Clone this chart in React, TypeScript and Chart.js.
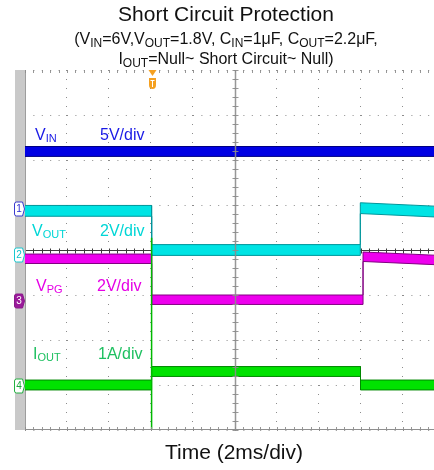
import { useEffect, useRef } from 'react';
import { Chart, registerables } from 'chart.js';

Chart.register(...registerables);

const FONT = '"Liberation Sans", Arial, Helvetica, sans-serif';

// Horizontal: 2 ms/div, screen shows 0 … 19.48 ms
const MS_PER_DIV = 2;
const TIME_END = 19.48;
const TRIGGER_MS = 6.03;

// CH1 – VIN (V)
const VIN_T = [0, TIME_END];
const VIN_V = [6.4, 6.4];
// CH2 – VOUT (V)
const VOUT_T = [0, 6.03, 6.03, 15.97, 15.97, TIME_END];
const VOUT_V = [1.96, 1.96, 0.22, 0.22, 2.08, 1.93];
// CH3 – VPG (V)
const VPG_T = [0, 6.03, 6.03, 16.1, 16.1, TIME_END];
const VPG_V = [1.87, 1.87, 0.05, 0.05, 1.96, 1.82];
// CH4 – IOUT (A)
const IOUT_T = [0, 6.03, 6.03, 15.98, 15.98, TIME_END];
const IOUT_A = [0.02, 0.02, 0.32, 0.32, 0.02, 0.02];
// current transient at the instant the output is shorted
const IOUT_SPIKE_T = [6.03, 6.03];
const IOUT_SPIKE_A = [3.29, -1.5];

// peak-to-peak noise of each channel (V, V, V, A)
const NOISE_PP = [1.1, 0.48, 0.42, 0.22];
// units per vertical division for CH1..CH4
const UNITS_PER_DIV = [5, 2, 2, 1];
// ground level of each channel, in divisions from screen centre
const ZERO_DIV = [0.91, -0.11, -1.13, -3.02];

const CH_NAMES = ['VIN', 'VOUT', 'VPG', 'IOUT'];
const CH_TIMES = [VIN_T, VOUT_T, VPG_T, IOUT_T];
const CH_VALUES = [VIN_V, VOUT_V, VPG_V, IOUT_A];

const TRACE_FILL = ['rgb(0,0,228)', 'rgb(0,228,228)', 'rgb(238,0,238)', 'rgb(0,226,0)'];
const TRACE_EDGE = ['rgb(0,0,130)', 'rgb(0,150,155)', 'rgb(130,0,130)', 'rgb(0,135,0)'];

type Part = [string, boolean];

const TRACE_LABELS: { parts: Part[]; scale: string; color: string; x: number; sx: number; y: number }[] = [
  { parts: [['V', false], ['IN', true]], scale: '5V/div', color: '#1a1ae6', x: 35, sx: 100, y: 140 },
  { parts: [['V', false], ['OUT', true]], scale: '2V/div', color: '#00d6d6', x: 32, sx: 100, y: 236 },
  { parts: [['V', false], ['PG', true]], scale: '2V/div', color: '#e600e6', x: 36, sx: 97, y: 291 },
  { parts: [['I', false], ['OUT', true]], scale: '1A/div', color: '#1ec060', x: 33, sx: 98, y: 359 },
];

const TITLE = 'Short Circuit Protection';
const SUBTITLE_1: Part[] = [
  ['(V', false], ['IN', true], ['=6V,V', false], ['OUT', true], ['=1.8V, C', false], ['IN', true],
  ['=1μF, C', false], ['OUT', true], ['=2.2μF,', false],
];
const SUBTITLE_2: Part[] = [['I', false], ['OUT', true], ['=Null~ Short Circuit~ Null)', false]];
const X_TITLE = 'Time (2ms/div)';

function toDiv(ch: number, v: number) {
  return ZERO_DIV[ch] + v / UNITS_PER_DIV[ch];
}

function bandDatasets(ch: number) {
  const t = CH_TIMES[ch];
  const v = CH_VALUES[ch];
  const half = NOISE_PP[ch] / 2;
  return [
    {
      label: CH_NAMES[ch] + ' max',
      data: t.map((x, i) => ({ x, y: toDiv(ch, v[i] + half) })),
      borderColor: TRACE_EDGE[ch],
      borderWidth: 1,
      pointRadius: 0,
      fill: false,
    },
    {
      label: CH_NAMES[ch] + ' min',
      data: t.map((x, i) => ({ x, y: toDiv(ch, v[i] - half) })),
      borderColor: TRACE_EDGE[ch],
      borderWidth: 1,
      pointRadius: 0,
      fill: '-1',
      backgroundColor: TRACE_FILL[ch],
    },
  ];
}

function drawParts(ctx: CanvasRenderingContext2D, parts: Part[], x: number, y: number, size: number, subSize: number, drop: number, center: boolean) {
  const widths = parts.map(([t, s]) => {
    ctx.font = `${s ? subSize : size}px ${FONT}`;
    return ctx.measureText(t).width;
  });
  const total = widths.reduce((a, b) => a + b, 0);
  let cx = center ? x - total / 2 : x;
  ctx.textAlign = 'left';
  ctx.textBaseline = 'alphabetic';
  parts.forEach(([t, s], i) => {
    ctx.font = `${s ? subSize : size}px ${FONT}`;
    ctx.fillText(t, cx, s ? y + drop : y);
    cx += widths[i];
  });
}

const scopePlugin = {
  id: 'scopeScreen',
  beforeDraw(chart: any) {
    const { ctx, chartArea: a } = chart;
    ctx.save();
    ctx.fillStyle = '#ffffff';
    ctx.fillRect(0, 0, chart.width, chart.height);
    ctx.fillStyle = '#c9c9c9';
    ctx.fillRect(a.left - 10, a.top, 10, a.bottom - a.top);
    ctx.restore();
  },
  beforeDatasetsDraw(chart: any) {
    const { ctx, chartArea: a, scales } = chart;
    const y0 = Math.round(scales.y.getPixelForValue(0)) + 0.5;
    ctx.save();
    ctx.strokeStyle = '#3a3a3a';
    ctx.lineWidth = 1;
    ctx.beginPath();
    ctx.moveTo(a.left, y0);
    ctx.lineTo(a.right, y0);
    const xStep = (scales.x.getPixelForValue(MS_PER_DIV) - scales.x.getPixelForValue(0)) / 5;
    for (let x = a.left; x <= a.right; x += xStep) {
      const px = Math.round(x) + 0.5;
      ctx.moveTo(px, y0 - 2);
      ctx.lineTo(px, y0 + 3);
    }
    ctx.stroke();
    ctx.strokeStyle = '#9d9d9d';
    ctx.beginPath();
    ctx.moveTo(a.left + 0.5, a.top);
    ctx.lineTo(a.left + 0.5, a.bottom);
    ctx.stroke();
    ctx.restore();
  },
  afterDatasetsDraw(chart: any) {
    const { ctx, chartArea: a, scales } = chart;
    const xc = Math.round(scales.x.getPixelForValue(5 * MS_PER_DIV)) + 0.5;
    const yStep = (scales.y.getPixelForValue(0) - scales.y.getPixelForValue(1)) / 5;
    const xStep = (scales.x.getPixelForValue(MS_PER_DIV) - scales.x.getPixelForValue(0)) / 5;
    ctx.save();
    ctx.strokeStyle = 'rgba(140,140,140,0.9)';
    ctx.lineWidth = 1.5;
    ctx.beginPath();
    ctx.moveTo(xc, a.top);
    ctx.lineTo(xc, a.bottom);
    ctx.stroke();
    ctx.lineWidth = 1;
    ctx.beginPath();
    for (let y = a.top; y <= a.bottom + 0.1; y += yStep) {
      const py = Math.round(y) + 0.5;
      ctx.moveTo(xc - 3, py);
      ctx.lineTo(xc + 3, py);
    }
    for (let x = a.left; x <= a.right; x += xStep) {
      const px = Math.round(x) + 0.5;
      ctx.moveTo(px, a.top);
      ctx.lineTo(px, a.top + 3);
      ctx.moveTo(px, a.bottom - 3);
      ctx.lineTo(px, a.bottom);
    }
    ctx.stroke();
    ctx.strokeStyle = '#8f8f8f';
    ctx.beginPath();
    ctx.moveTo(a.left, a.bottom - 0.5);
    ctx.lineTo(a.right, a.bottom - 0.5);
    ctx.stroke();
    ctx.restore();
  },
  afterDraw(chart: any) {
    const { ctx, chartArea: a, scales } = chart;
    ctx.save();

    // channel ground markers
    const markerStroke = ['#3b3bd0', '#18c8d0', '#8a1a8a', '#22b040'];
    const markerFill = ['#ffffff', '#ffffff', '#9a1a9a', '#ffffff'];
    const markerText = ['#2a2ad0', '#10c0c8', '#ffffff', '#1aa83a'];
    ZERO_DIV.forEach((d, i) => {
      const y = Math.round(scales.y.getPixelForValue(d));
      const l = a.left - 10.5;
      const r = a.left - 2.5;
      ctx.beginPath();
      ctx.moveTo(l + 2, y - 7);
      ctx.lineTo(r, y - 7);
      ctx.lineTo(r + 2, y);
      ctx.lineTo(r, y + 7);
      ctx.lineTo(l + 2, y + 7);
      ctx.quadraticCurveTo(l, y + 7, l, y + 5);
      ctx.lineTo(l, y - 5);
      ctx.quadraticCurveTo(l, y - 7, l + 2, y - 7);
      ctx.closePath();
      ctx.fillStyle = markerFill[i];
      ctx.fill();
      ctx.strokeStyle = markerStroke[i];
      ctx.lineWidth = 1;
      ctx.stroke();
      ctx.fillStyle = markerText[i];
      ctx.font = `10px ${FONT}`;
      ctx.textAlign = 'center';
      ctx.textBaseline = 'middle';
      ctx.fillText(String(i + 1), (l + r) / 2 + 0.5, y + 0.5);
    });

    // trigger position marker
    const tx = Math.round(scales.x.getPixelForValue(TRIGGER_MS)) + 0.5;
    ctx.fillStyle = '#f5a020';
    ctx.beginPath();
    ctx.moveTo(tx - 4, a.top);
    ctx.lineTo(tx + 4, a.top);
    ctx.lineTo(tx, a.top + 6);
    ctx.closePath();
    ctx.fill();
    ctx.beginPath();
    ctx.moveTo(tx - 3.5, a.top + 8);
    ctx.lineTo(tx + 3.5, a.top + 8);
    ctx.lineTo(tx + 3.5, a.top + 15);
    ctx.quadraticCurveTo(tx + 3.5, a.top + 19, tx, a.top + 19);
    ctx.quadraticCurveTo(tx - 3.5, a.top + 19, tx - 3.5, a.top + 15);
    ctx.closePath();
    ctx.fill();
    ctx.strokeStyle = '#ffffff';
    ctx.lineWidth = 1;
    ctx.beginPath();
    ctx.moveTo(tx - 2, a.top + 10.5);
    ctx.lineTo(tx + 2, a.top + 10.5);
    ctx.moveTo(tx, a.top + 10.5);
    ctx.lineTo(tx, a.top + 17);
    ctx.stroke();

    // trace labels
    TRACE_LABELS.forEach((lb) => {
      ctx.fillStyle = lb.color;
      drawParts(ctx, lb.parts, lb.x, lb.y, 16, 11, 2, false);
      ctx.font = `16px ${FONT}`;
      ctx.fillText(lb.scale, lb.sx, lb.y);
    });

    // titles
    ctx.fillStyle = '#111111';
    ctx.font = `21px ${FONT}`;
    ctx.textAlign = 'center';
    ctx.textBaseline = 'alphabetic';
    ctx.fillText(TITLE, 226, 21);
    drawParts(ctx, SUBTITLE_1, 226, 44, 16, 12, 3, true);
    drawParts(ctx, SUBTITLE_2, 226, 64, 16, 12, 3, true);
    ctx.font = `21px ${FONT}`;
    ctx.textAlign = 'center';
    ctx.fillText(X_TITLE, 234, 459);
    ctx.restore();
  },
};

export default function App() {
  const ref = useRef<HTMLCanvasElement>(null);

  useEffect(() => {
    const canvas = ref.current;
    if (!canvas) return;
    const datasets: any[] = [];
    // IOUT spike on top, then IOUT, VPG, VOUT, VIN
    datasets.push({
      label: 'IOUT transient',
      data: IOUT_SPIKE_T.map((x, i) => ({ x, y: toDiv(3, IOUT_SPIKE_A[i]) })),
      borderColor: 'rgb(0,185,0)',
      borderWidth: 1.5,
      pointRadius: 0,
      fill: false,
    });
    [3, 2, 1, 0].forEach((ch) => datasets.push(...bandDatasets(ch)));

    const chart = new Chart(canvas, {
      type: 'line',
      data: { datasets },
      options: {
        animation: false,
        responsive: false,
        devicePixelRatio: 1,
        events: [],
        layout: { padding: { left: 25, top: 70, right: 0, bottom: 40 } },
        elements: { line: { tension: 0 } },
        plugins: {
          legend: { display: false },
          tooltip: { enabled: false },
          title: { display: false },
        },
        scales: {
          x: {
            type: 'linear',
            min: 0,
            max: TIME_END,
            ticks: { display: false, stepSize: MS_PER_DIV, includeBounds: false },
            grid: { color: '#8c8c8c', lineWidth: 1, drawTicks: false },
            border: { display: false, dash: [1, 8] },
          },
          y: {
            type: 'linear',
            min: -4,
            max: 4,
            ticks: { display: false, stepSize: 1 },
            grid: { color: '#8c8c8c', lineWidth: 1, drawTicks: false },
            border: { display: false, dash: [1, 7.4] },
          },
        },
      },
      plugins: [scopePlugin],
    });
    return () => chart.destroy();
  }, []);

  return (
    <div style={{ position: 'absolute', left: 0, top: 0, width: 434, height: 470, background: '#ffffff' }}>
      <canvas ref={ref} width={434} height={470} style={{ display: 'block' }} />
    </div>
  );
}
